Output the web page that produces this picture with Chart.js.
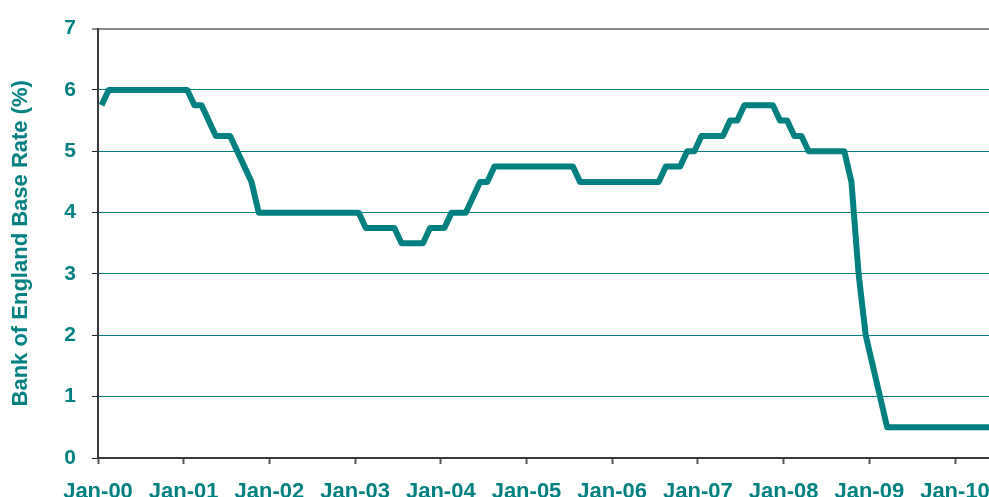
<!DOCTYPE html>
<html><head><meta charset="utf-8">
<script src="https://cdn.jsdelivr.net/npm/chart.js@4"></script>
<style>
html,body{margin:0;padding:0;background:#fff;overflow:hidden;width:989px;height:497px}
#wrap{position:absolute;left:0;top:0;width:1010px;height:520px}
</style>
</head><body>
<div id="wrap"><canvas id="c" width="1010" height="520"></canvas></div>
<script>
// Monthly Bank of England base rate (%), Jan 2000 .. Jun 2010 (plotted at mid-month)
const rate2000 = [5.75, 6, 6, 6, 6, 6, 6, 6, 6, 6, 6, 6];
const rate2001 = [6, 5.75, 5.75, 5.5, 5.25, 5.25, 5.25, 5, 4.75, 4.5, 4, 4];
const rate2002 = [4, 4, 4, 4, 4, 4, 4, 4, 4, 4, 4, 4];
const rate2003 = [4, 3.75, 3.75, 3.75, 3.75, 3.75, 3.5, 3.5, 3.5, 3.5, 3.75, 3.75];
const rate2004 = [3.75, 4, 4, 4, 4.25, 4.5, 4.5, 4.75, 4.75, 4.75, 4.75, 4.75];
const rate2005 = [4.75, 4.75, 4.75, 4.75, 4.75, 4.75, 4.75, 4.5, 4.5, 4.5, 4.5, 4.5];
const rate2006 = [4.5, 4.5, 4.5, 4.5, 4.5, 4.5, 4.5, 4.75, 4.75, 4.75, 5, 5];
const rate2007 = [5.25, 5.25, 5.25, 5.25, 5.5, 5.5, 5.75, 5.75, 5.75, 5.75, 5.75, 5.5];
const rate2008 = [5.5, 5.25, 5.25, 5, 5, 5, 5, 5, 5, 4.5, 3, 2];
const rate2009 = [1.5, 1, 0.5, 0.5, 0.5, 0.5, 0.5, 0.5, 0.5, 0.5, 0.5, 0.5];
const rate2010 = [0.5, 0.5, 0.5, 0.5, 0.5, 0.5];

const xTickLabels = ['Jan-00','Jan-01','Jan-02','Jan-03','Jan-04','Jan-05','Jan-06','Jan-07','Jan-08','Jan-09','Jan-10'];
const yTicks = [0, 1, 2, 3, 4, 5, 6, 7];
const yTitle = 'Bank of England Base Rate (%)';

const baseRate = [].concat(rate2000, rate2001, rate2002, rate2003, rate2004, rate2005,
                           rate2006, rate2007, rate2008, rate2009, rate2010);
const points = baseRate.map((v, i) => ({ x: i + 0.5, y: v })); // month index, mid-month

const TEAL = '#008080';
const FONT = '"Liberation Sans", Arial, Helvetica, sans-serif';

new Chart(document.getElementById('c'), {
  type: 'line',
  data: {
    datasets: [{
      data: points,
      borderColor: TEAL,
      borderWidth: 6,
      pointRadius: 0,
      tension: 0,
      fill: false,
      borderJoinStyle: 'round',
      borderCapStyle: 'butt'
    }]
  },
  options: {
    responsive: false,
    animation: false,
    layout: { padding: { top: 25, right: 21, left: 0, bottom: 0 } },
    plugins: { legend: { display: false }, tooltip: { enabled: false } },
    scales: {
      x: {
        type: 'linear',
        min: 0,
        max: 124.76,
        afterFit: s => { s.height = 62; },
        border: { display: true, color: '#3a3a3a', width: 2 },
        grid: {
          drawOnChartArea: false,
          drawTicks: true,
          tickLength: 6,
          tickColor: '#555',
          tickWidth: 2
        },
        ticks: {
          stepSize: 12,
          includeBounds: false,
          autoSkip: false,
          maxRotation: 0,
          padding: 15,
          color: TEAL,
          font: { family: FONT, size: 22, weight: 'bold' },
          callback: v => xTickLabels[Math.round(v / 12)] ?? ''
        }
      },
      y: {
        min: yTicks[0],
        max: yTicks[yTicks.length - 1],
        afterFit: s => { s.width = 98; },
        border: { display: true, color: '#3a3a3a', width: 2 },
        grid: {
          color: c => c.tick && c.tick.value === 7 ? '#8a8a8a' : (c.tick && c.tick.value === 0 ? 'rgba(0,0,0,0)' : TEAL),
          lineWidth: c => c.tick && c.tick.value === 7 ? 2 : 1,
          tickLength: 6,
          tickColor: '#222',
          tickWidth: 1
        },
        ticks: {
          stepSize: 1,
          padding: 16,
          color: TEAL,
          font: { family: FONT, size: 21, weight: 'bold' },
          callback: v => yTicks.includes(v) ? String(v) : ''
        },
        title: {
          display: true,
          text: yTitle,
          color: TEAL,
          padding: { top: 8, bottom: 0 },
          font: { family: FONT, size: 22, weight: 'bold' }
        }
      }
    }
  }
});
</script>
</body></html>
